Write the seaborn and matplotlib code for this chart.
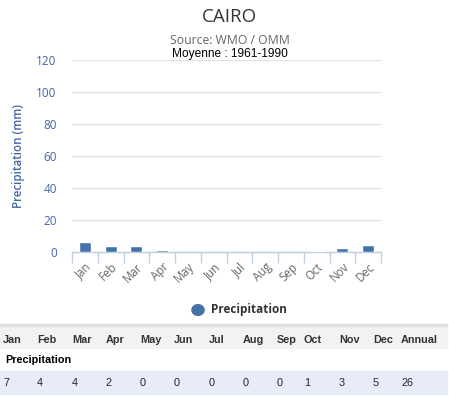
import numpy as np
import pandas as pd
import seaborn as sns
import matplotlib.pyplot as plt
from matplotlib.patches import Rectangle

# Données climatiques (Caire, 1961-1990)
months = ['Jan', 'Feb', 'Mar', 'Apr', 'May', 'Jun', 'Jul', 'Aug', 'Sep', 'Oct', 'Nov', 'Dec']
precip_bars = [6.5, 3.5, 3.5, 1.3, 0, 0, 0, 0, 0, 0.6, 2.7, 4.6]
precip_table = ['7', '4', '4', '2', '0', '0', '0', '0', '0', '1', '3', '5']
annual_total = '26'
y_ticks = [0, 20, 40, 60, 80, 100, 120]

blue = '#4572A7'
tick_blue = '#4167A6'

sns.set_theme(style='white')
plt.rcParams['font.family'] = ['Open Sans', 'DejaVu Sans']

W, H = 449, 397
fig = plt.figure(figsize=(W / 100, H / 100), dpi=100)

def fx(px):
    return px / W

def fy(py):
    return 1 - py / H

ax = fig.add_axes([fx(72), fy(252), fx(381) - fx(72), fy(60) - fy(252)])

df = pd.DataFrame({'month': months, 'precip': precip_bars})
sns.barplot(data=df, x='month', y='precip', color=blue, width=0.47,
            saturation=1, ax=ax, zorder=3)

ax.set_ylim(0, 120)
ax.set_xlim(-0.5, len(months) - 0.5)
ax.set_yticks(y_ticks)
ax.set_yticklabels([str(t) for t in y_ticks], color=tick_blue, fontsize=8.5)
ax.yaxis.grid(True, color='#E3E3E3', linewidth=1, zorder=0)
ax.tick_params(axis='y', length=0, pad=11)
ax.set_ylabel('Precipitation (mm)', color=tick_blue, fontsize=8.3,
              fontweight='semibold', labelpad=8)
ax.set_xlabel('')

# ticks entre les catégories
ax.set_xticks(np.arange(-0.5, len(months), 1.0))
ax.set_xticklabels([''] * (len(months) + 1))
ax.set_xticks(np.arange(len(months)), minor=True)
ax.set_xticklabels(months, minor=True, rotation=45, ha='right',
                   rotation_mode='anchor', fontsize=8.3, color='#666666')
ax.tick_params(axis='x', which='major', length=8, width=1, color='#C0D0E0',
               direction='out', bottom=True)
ax.tick_params(axis='x', which='minor', length=0, pad=6)

for side in ['top', 'right', 'left']:
    ax.spines[side].set_visible(False)
ax.spines['bottom'].set_color('#C0D0E0')
ax.spines['bottom'].set_linewidth(1)

# titres
fig.text(fx(229), fy(17), 'CAIRO', ha='center', va='center',
         fontsize=13.5, color='#333333')
fig.text(fx(230), fy(41), 'Source: WMO / OMM', ha='center', va='center',
         fontsize=8.8, color='#666666')
fig.text(fx(230), fy(54), 'Moyenne : 1961-1990', ha='center', va='center',
         fontsize=8.6, color='black', fontfamily='Liberation Sans')

# légende
fig.add_artist(plt.Circle((fx(198), fy(310)), 0.0135, transform=fig.transFigure,
                          color=blue))
fig.text(fx(211), fy(310), 'Precipitation', ha='left', va='center',
         fontsize=8.5, fontweight='bold', color='#333333')

# tableau
fig.patches.append(Rectangle((0, fy(348)), fx(447), fy(326) - fy(348),
                             transform=fig.transFigure, color='#F2F2F2', zorder=0))
fig.patches.append(Rectangle((0, fy(326)), fx(447), fy(324) - fy(326),
                             transform=fig.transFigure, color='#E0E0E0', zorder=0))
fig.patches.append(Rectangle((0, fy(394)), fx(447), fy(371) - fy(394),
                             transform=fig.transFigure, color='#E8ECFA', zorder=0))

col_x = [3, 37, 72, 106, 140, 174, 209, 243, 277, 304, 339, 373, 401]
headers = months + ['Annual']
values = precip_table + [annual_total]
for x, h, v in zip(col_x, headers, values):
    fig.text(fx(x), fy(340), h, ha='left', va='center', fontsize=7.8,
             fontweight='bold', color='#333333', fontfamily='Liberation Sans')
    fig.text(fx(x), fy(383), v, ha='left', va='center', fontsize=7.8,
             color='#222222', fontfamily='Liberation Sans')
fig.text(fx(5), fy(360), 'Precipitation', ha='left', va='center', fontsize=7.8,
         fontweight='bold', color='black', fontfamily='Liberation Sans')

fig.savefig('out.png', dpi=100)
